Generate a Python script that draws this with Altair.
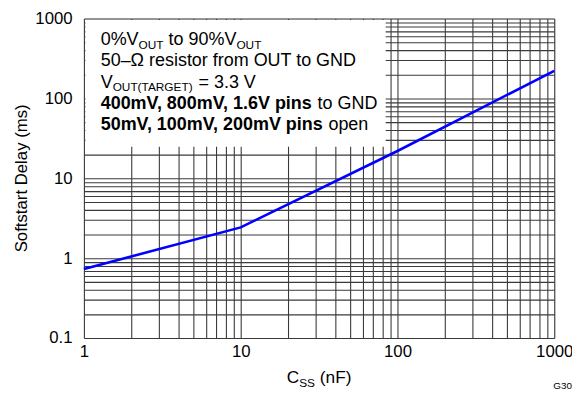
import altair as alt
import pandas as pd

# ---- data ----
css_nf = [1, 2, 10, 100, 1000]
delay_ms = [0.73, 1.05, 2.43, 22, 222]

x_grid = [1, 2, 3, 4, 5, 6, 7, 8, 9,
          10, 20, 30, 40, 50, 60, 70, 80, 90,
          100, 200, 300, 400, 500, 600, 700, 800, 900, 1000]
y_grid = [0.1, 0.2, 0.3, 0.4, 0.5, 0.6, 0.7, 0.8, 0.9,
          1, 2, 3, 4, 5, 6, 7, 8, 9,
          10, 20, 30, 40, 50, 60, 70, 80, 90,
          100, 200, 300, 400, 500, 600, 700, 800, 900, 1000]

W, H = 477, 324
FONT = "Liberation Sans"
FS = 18.2
TICKFS = 17
SUB = 12
SUBDY = 3.5

REG = {" ": 278, "%": 889, "(": 333, ")": 333, ",": 278, ".": 278, "=": 584,
       "A": 667, "C": 722, "D": 722, "E": 667, "F": 611, "G": 778, "N": 722,
       "O": 778, "R": 722, "S": 667, "T": 611, "U": 722, "V": 667,
       "a": 556, "e": 556, "f": 278, "i": 222, "m": 833, "n": 556, "o": 556,
       "p": 556, "r": 333, "s": 500, "t": 278, "l": 222, "y": 500,
       "Ω": 768, "–": 556}
BOLD = {" ": 278, ",": 278, ".": 278, "V": 667, "m": 889, "i": 278, "n": 611,
        "p": 611, "s": 556}


def tw(s, size, bold=False):
    tab = BOLD if bold else REG
    f = 0.988 if bold else 1.0
    return f * sum(tab.get(c, 556) for c in s) * size / 1000.0


def piece(text, x, y, size, bold=False, align="left"):
    return alt.Chart(pd.DataFrame({"t": [text]})).mark_text(
        font=FONT, fontSize=size, fontWeight="bold" if bold else "normal",
        align=align, baseline="alphabetic", color="black"
    ).encode(text="t:N", x=alt.value(x), y=alt.value(y))


def line_pieces(parts, x0, y0):
    out = []
    x = x0
    for text, size, bold, dy in parts:
        lead = len(text) - len(text.lstrip(" "))
        x += tw(" " * lead, size, False)
        t = text.lstrip(" ")
        out.append(piece(t, x, y0 + dy, size, bold))
        x += tw(t, size, bold)
    return out


box_lines = [
    [("0%V", FS, False, 0), ("OUT", SUB, False, SUBDY), (" to 90%V", FS, False, 0), ("OUT", SUB, False, SUBDY)],
    [("50–Ω resistor from OUT to GND", FS, False, 0)],
    [("V", FS, False, 0), ("OUT(TARGET)", SUB, False, SUBDY), (" = 3.3 V", FS, False, 0)],
    [("400mV, 800mV, 1.6V pins", FS, True, 0), (" to GND", FS, False, 0)],
    [("50mV, 100mV, 200mV pins", FS, True, 0), (" open", FS, False, 0)],
]
baselines = [27, 48.5, 70, 91.5, 113]

df = pd.DataFrame({"css": css_nf, "delay": delay_ms})

decade_expr = "abs(log(datum.value)/LN10 - round(log(datum.value)/LN10)) < 1e-6 ? datum.label : ''"

base = alt.Chart(df)

line = base.mark_line(color="#0000ff", strokeWidth=2.6).encode(
    x=alt.X("css:Q",
            scale=alt.Scale(type="log", domain=[1, 1000], nice=False),
            axis=alt.Axis(values=x_grid, grid=True, gridColor="#3a3a3a", gridWidth=1.1,
                          ticks=False, domain=False, format="~g", labelExpr=decade_expr,
                          labelOverlap=False, labelFlush=False, labelBound=False,
                          labelFont=FONT, labelFontSize=TICKFS, labelColor="black",
                          labelPadding=6, title=None)),
    y=alt.Y("delay:Q",
            scale=alt.Scale(type="log", domain=[0.1, 1000], nice=False),
            axis=alt.Axis(values=y_grid, grid=True, gridColor="#3a3a3a", gridWidth=1.1,
                          ticks=False, domain=False, format="~g", labelExpr=decade_expr,
                          labelOverlap=False, labelFlush=False, labelBound=False,
                          labelFont=FONT, labelFontSize=TICKFS, labelColor="black",
                          labelPadding=12, title=None)),
)

box = alt.Chart(pd.DataFrame({"a": [0]})).mark_rect(color="white").encode(
    x=alt.value(1.5), x2=alt.value(306), y=alt.value(1.5), y2=alt.value(130))

texts = []
for parts, yb in zip(box_lines, baselines):
    texts += line_pieces(parts, 17, yb)

# y-axis title
ytitle = alt.Chart(pd.DataFrame({"t": ["Softstart Delay (ms)"]})).mark_text(
    font=FONT, fontSize=TICKFS, angle=270, align="center", baseline="middle", color="black"
).encode(text="t:N", x=alt.value(-63), y=alt.value(H / 2))

# x-axis title with subscript
XFS = 17.5
xt_parts = [("C", XFS, False, 0), ("SS", SUB, False, SUBDY), (" (nF)", XFS, False, 0)]
xt_w = sum(tw(p[0], p[1]) for p in xt_parts)
xtitle = line_pieces(xt_parts, W / 2 - xt_w / 2, 370)

g30 = piece("G30", 495, 376, 10, align="right")

chart = alt.layer(line, box, *texts, ytitle, *xtitle, g30).properties(
    width=W, height=H,
    autosize=alt.AutoSizeParams(type="none"),
    padding={"left": 77, "top": 8, "right": 18, "bottom": 54},
).configure_view(stroke="black", strokeWidth=2.8).configure(background="white")

chart.save("out.html", embed_options={"renderer": "svg", "actions": False})
